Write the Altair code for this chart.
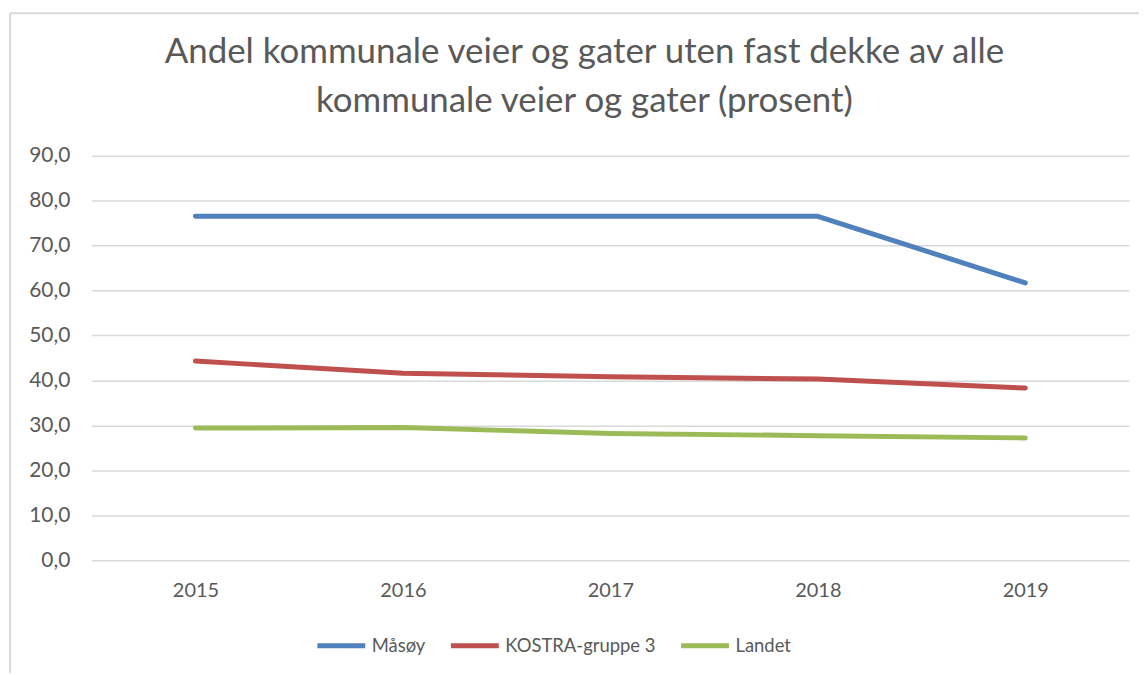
import altair as alt
import pandas as pd

years = ["2015", "2016", "2017", "2018", "2019"]
series_names = ["Måsøy", "KOSTRA-gruppe 3", "Landet"]
masoy = [76.5, 76.5, 76.5, 76.5, 61.7]
kostra = [44.3, 41.6, 40.8, 40.3, 38.3]
landet = [29.4, 29.5, 28.2, 27.7, 27.2]
colors = ["#4F81BD", "#C0504D", "#9BBB59"]
y_ticks = [0, 10, 20, 30, 40, 50, 60, 70, 80, 90]
title_lines = ["Andel kommunale veier og gater uten fast dekke av alle",
               "kommunale veier og gater (prosent)"]

rows = []
for name, vals in zip(series_names, [masoy, kostra, landet]):
    for yr, v in zip(years, vals):
        rows.append({"year": yr, "series": name, "value": v})
df = pd.DataFrame(rows)

FONT = "Lato"
GRAY = "#595959"
W, H = 1041, 406

lines = alt.Chart(df).mark_line(strokeWidth=5, strokeCap="round", strokeJoin="round").encode(
    x=alt.X("year:O", sort=years,
            scale=alt.Scale(padding=0.5),
            axis=alt.Axis(title=None, labelAngle=0, ticks=False, domain=False,
                          labelFontSize=20, labelColor=GRAY, labelFont=FONT,
                          labelPadding=20, grid=False)),
    y=alt.Y("value:Q",
            scale=alt.Scale(domain=[0, 90], nice=False),
            axis=alt.Axis(title=None, values=y_ticks, ticks=False, domain=False,
                          labelFontSize=21, labelColor=GRAY, labelFont=FONT,
                          labelPadding=22, gridColor="#D9D9D9", gridWidth=1.5,
                          labelExpr="replace(format(datum.value, '.1f'), '.', ',')")),
    color=alt.Color("series:N",
                    scale=alt.Scale(domain=series_names, range=colors),
                    legend=alt.Legend(title=None, orient="none", direction="horizontal",
                                      legendX=224, legendY=465,
                                      symbolType="stroke", symbolSize=2304,
                                      symbolStrokeWidth=5, labelFontSize=18.5,
                                      labelFont=FONT, labelColor=GRAY, labelLimit=0,
                                      labelOffset=4, columnPadding=15)),
)

border = pd.DataFrame({"k": [0]})
left_border = alt.Chart(border).mark_rule(color="#D9D9D9", strokeWidth=2).encode(
    x=alt.value(-82), y=alt.value(-143), y2=alt.value(530))
top_border = alt.Chart(border).mark_rule(color="#D9D9D9", strokeWidth=2).encode(
    x=alt.value(-82), x2=alt.value(1070), y=alt.value(-143))

chart = alt.layer(left_border, top_border, lines).properties(
    width=W, height=H,
    title=alt.TitleParams(text=title_lines, fontSize=35, color=GRAY, font=FONT,
                          fontWeight="normal", anchor="middle", frame="group",
                          dx=-26, lineHeight=49, offset=-107),
    padding={"left": 84, "top": 147, "right": 10, "bottom": 112},
    autosize=alt.AutoSizeParams(type="none"),
).configure_view(stroke=None)

chart.save("out.html", embed_options={"renderer": "svg", "actions": False})
